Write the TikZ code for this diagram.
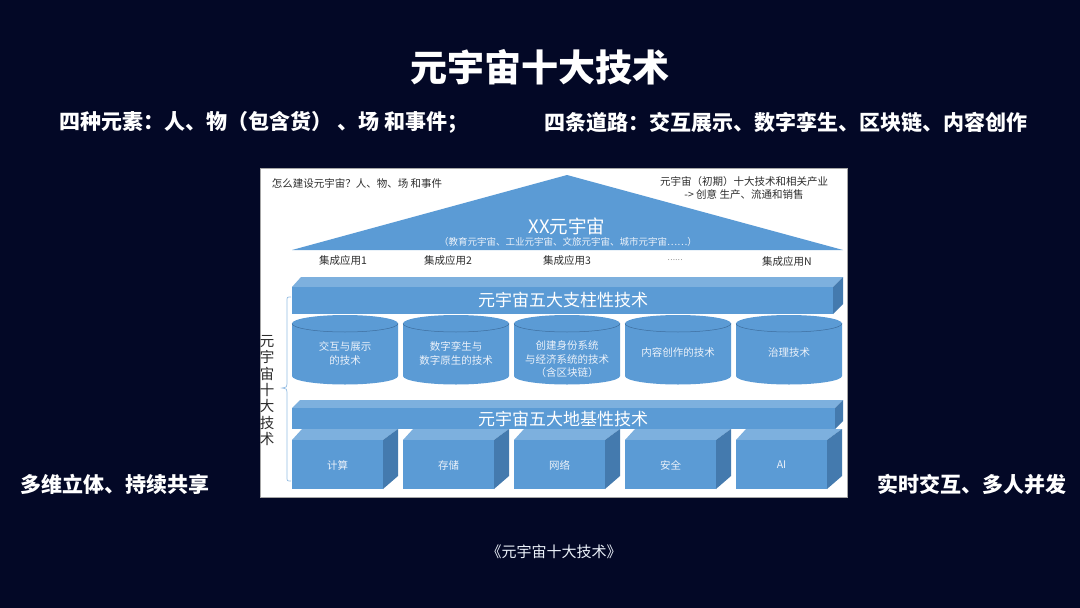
\documentclass[tikz,border=0pt]{standalone}
\usepackage{fontspec}
\setmainfont{Noto Sans CJK SC}
\definecolor{bg}{RGB}{3,8,38}
\definecolor{ofblue}{RGB}{91,155,213}
\definecolor{oftop}{RGB}{125,176,222}
\definecolor{ofside}{RGB}{68,122,174}
\definecolor{ofline}{RGB}{62,110,158}
\definecolor{brc}{RGB}{150,190,228}
\definecolor{lighttxt}{RGB}{236,242,250}
\definecolor{darktxt}{RGB}{45,45,45}
\tikzset{
  heading/.style={font=\bfseries\fontsize{21}{24}\selectfont, text=white, inner sep=0pt},
  smalldark/.style={font=\fontsize{10.5}{13}\selectfont, text=darktxt, inner sep=0pt, align=center},
  apptxt/.style={font=\fontsize{10.5}{13}\selectfont, text=darktxt, inner sep=0pt},
  bartxt/.style={font=\fontsize{17}{20}\selectfont, text=white, inner sep=0pt},
  celltxt/.style={font=\fontsize{10.5}{13.5}\selectfont, text=lighttxt, inner sep=0pt, align=center},
}
\begin{document}
\begin{tikzpicture}[x=1pt,y=-1pt]
\useasboundingbox (0,0) rectangle (1080,608);
\fill[bg] (0,0) rectangle (1080,608);
% titles
\node[font=\bfseries\fontsize{37}{40}\selectfont, text=white, inner sep=0pt] (title) at (540,67) {元宇宙十大技术};
\node[heading] (elems) at (264,122) {四种元素：人、物（包含货） 、场 和事件；};
\node[heading] (roads) at (786,122) {四条道路：交互展示、数字孪生、区块链、内容创作};
\node[heading] (leftbot) at (115,484) {多维立体、持续共享};
\node[heading] (rightbot) at (972,484) {实时交互、多人并发};
\node[font=\fontsize{15}{17}\selectfont, text=lighttxt, inner sep=0pt] (caption) at (554,552) {《元宇宙十大技术》};
% panel
\filldraw[fill=white, draw=black!35, line width=0.8pt] (260,168) rectangle (847,497);
\node[smalldark] (how) at (357,183) {怎么建设元宇宙？人、物、场 和事件};
% roof
\fill[ofblue] (292,250) -- (567,175) -- (843,250) -- cycle;
\node[smalldark] (init) at (744,188) {元宇宙（初期）十大技术和相关产业\\-> 创意 生产、流通和销售};
\node[font=\fontsize{18.5}{20}\selectfont, text=white, inner sep=0pt] (xx) at (567,226) {XX元宇宙};
\node[font=\fontsize{9.5}{11}\selectfont, text=lighttxt, inner sep=0pt] (xxsub) at (568,242) {（教育元宇宙、工业元宇宙、文旅元宇宙、城市元宇宙……）};
% integrated applications
\node[apptxt] (app1) at (343,261) {集成应用1};
\node[apptxt] (app2) at (448,261) {集成应用2};
\node[apptxt] (app3) at (567,261) {集成应用3};
\node[apptxt, font=\fontsize{7}{8}\selectfont] (appdots) at (675,260) {……};
\node[apptxt] (appN) at (787,262) {集成应用N};
% pillar bar
\fill[oftop] (292,287) -- (301,277) -- (843,277) -- (833,287) -- cycle;
\fill[ofside] (833,287) -- (843,277) -- (843,304) -- (833,314) -- cycle;
\fill[ofblue] (292,287) rectangle (833,314);
\node[bartxt] (pillar) at (563,300) {元宇宙五大支柱性技术};
% cylinders
\foreach \cx/\nm in {345/cyla,456/cylb,567/cylc,678/cyld,789/cyle}{
  \fill[ofblue] (\cx-53,323.5) -- (\cx-53,376) arc[start angle=180,end angle=360,x radius=53pt,y radius=8.5pt]
     -- (\cx+53,323.5) arc[start angle=0,end angle=180,x radius=53pt,y radius=8.5pt] -- cycle;
  \draw[ofline, line width=0.5pt] (\cx-53,323.5) arc[start angle=180,end angle=360,x radius=53pt,y radius=8.5pt];
  \coordinate (\nm) at (\cx,352);
}
\node[celltxt] (t1) at (345,353.5) {交互与展示\\的技术};
\node[celltxt] (t2) at (456,353.5) {数字孪生与\\数字原生的技术};
\node[celltxt] (t3) at (567,359.5) {创建身份系统\\与经济系统的技术\\（含区块链）};
\node[celltxt] (t4) at (678,352.5) {内容创作的技术};
\node[celltxt] (t5) at (789,352.5) {治理技术};
% foundation bar
\fill[oftop] (292,408) -- (300,400) -- (843,400) -- (835,408) -- cycle;
\fill[ofside] (835,408) -- (843,400) -- (843,421) -- (835,429) -- cycle;
\fill[ofblue] (292,408) rectangle (835,429);
\node[bartxt] (found) at (563,418.5) {元宇宙五大地基性技术};
% boxes
\foreach \x/\lab/\nm in {292/计算/ba,403/存储/bb,514/网络/bc,625/安全/bd,736/AI/be}{
  \fill[oftop] (\x,440) -- (\x+10,429) -- (\x+106,429) -- (\x+91,440) -- cycle;
  \fill[ofside] (\x+91,440) -- (\x+106,429) -- (\x+106,476) -- (\x+91,489) -- cycle;
  \fill[ofblue] (\x,440) rectangle (\x+91,489);
  \node[celltxt] (\nm) at (\x+45.5,465) {\lab};
}
% brace and vertical label
\draw[brc, line width=0.7pt] (291,297) .. controls (287,297) .. (287,301) -- (287,384)
   .. controls (287,387) .. (282,388) .. controls (287,389) .. (287,392) -- (287,477)
   .. controls (287,481) .. (291,481);
\node[font=\fontsize{14.5}{16.3}\selectfont, text=darktxt, inner sep=0pt, align=center] (vlab) at (267,390.5) {元\\宇\\宙\\十\\大\\技\\术};
\end{tikzpicture}
\end{document}
